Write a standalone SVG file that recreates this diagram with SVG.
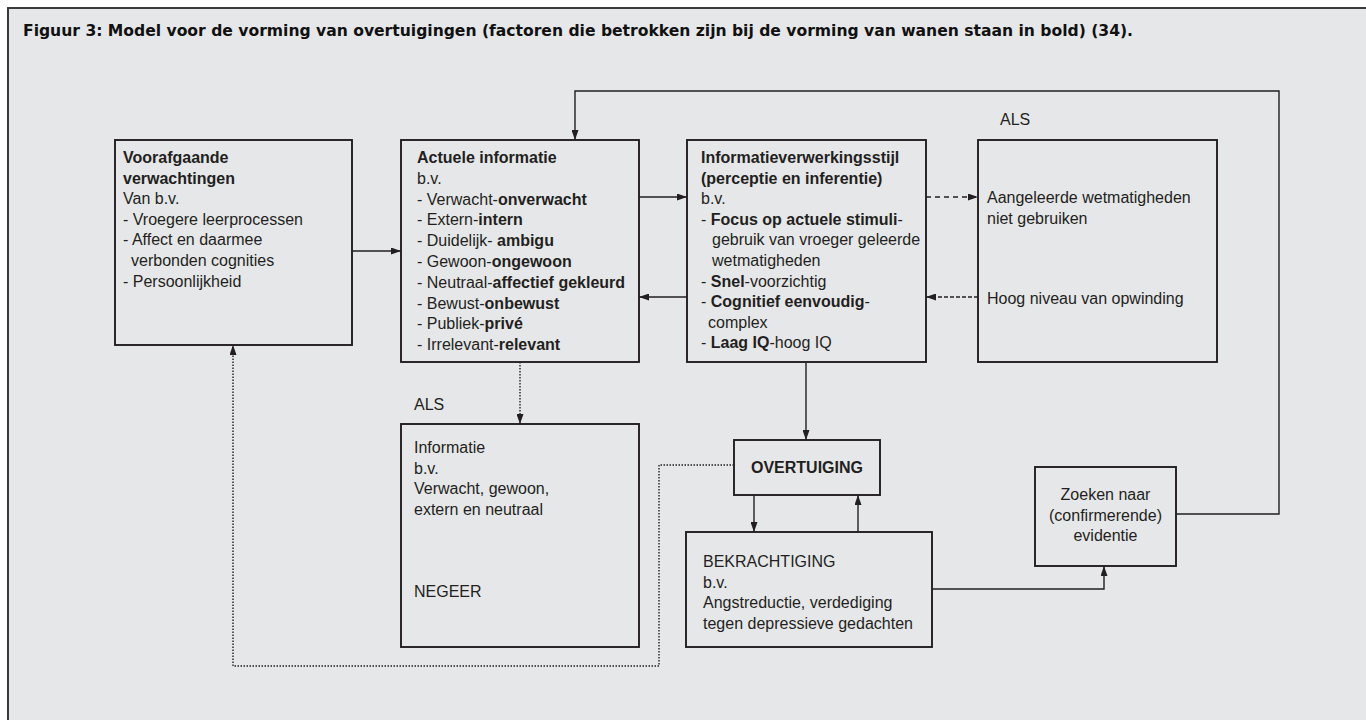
<svg xmlns="http://www.w3.org/2000/svg" width="1366" height="720" viewBox="0 0 1366 720">
<defs>
<style>
.frame{fill:#e6e7e9;stroke:#3a3a3a;stroke-width:2}
.box{fill:none;stroke:#231f20;stroke-width:1.9}
.t{font-family:"Liberation Sans",Arial,sans-serif;font-size:16px;fill:#231f20}
.b{font-weight:bold}
.title{font-family:"DejaVu Sans Condensed","DejaVu Sans",sans-serif;font-weight:bold;font-size:16px;fill:#111}
.c{fill:none;stroke:#231f20;stroke-width:1.4}
.dash{stroke-dasharray:5,4}
.dash2{stroke-dasharray:4,2}
.dot{stroke-dasharray:1.5,1.5}
</style>
<marker id="ah" viewBox="0 0 10 7" markerUnits="userSpaceOnUse" markerWidth="10" markerHeight="7" refX="10" refY="3.5" orient="auto">
<path d="M0,0 L10,3.5 L0,7 z" fill="#231f20"/>
</marker>
</defs>
<rect x="0" y="0" width="1366" height="720" fill="#ffffff"/>
<rect class="frame" x="8" y="8" width="1380" height="730"/>
<text class="title" x="23" y="36" textLength="1110" lengthAdjust="spacingAndGlyphs">Figuur 3: Model voor de vorming van overtuigingen (factoren die betrokken zijn bij de vorming van wanen staan in bold) (34).</text>

<g id="connectors">
<path class="c" d="M352,251 H401" marker-end="url(#ah)"/>
<path class="c" d="M639,197 H687" marker-end="url(#ah)"/>
<path class="c" d="M687,297 H639" marker-end="url(#ah)"/>
<path class="c dash" d="M926,197 H978" marker-end="url(#ah)"/>
<path class="c dash2" d="M978,297 H926" marker-end="url(#ah)"/>
<path class="c dot" d="M520,362 V424" marker-end="url(#ah)"/>
<path class="c" d="M806,362 V440" marker-end="url(#ah)"/>
<path class="c" d="M754,495 V532" marker-end="url(#ah)"/>
<path class="c" d="M858,532 V495" marker-end="url(#ah)"/>
<path class="c" d="M932,589 H1104 V566" marker-end="url(#ah)"/>
<path class="c" d="M1176,514 H1279 V91 H575 V140" marker-end="url(#ah)"/>
<path class="c dot" d="M734,465 H659 V666 H233 V345" marker-end="url(#ah)"/>
</g>

<g id="voorafgaande">
<rect class="box" x="115" y="140" width="237" height="205"/>
<text class="t" x="123" y="163"><tspan class="b">Voorafgaande</tspan><tspan x="123" dy="20.6" class="b">verwachtingen</tspan><tspan x="123" dy="20.6">Van b.v.</tspan><tspan x="123" dy="20.6">- Vroegere leerprocessen</tspan><tspan x="123" dy="20.6">- Affect en daarmee</tspan><tspan x="131" dy="20.6">verbonden cognities</tspan><tspan x="123" dy="20.6">- Persoonlijkheid</tspan></text>
</g>

<g id="actuele">
<rect class="box" x="401" y="140" width="238" height="222"/>
<text class="t" x="417" y="163"><tspan class="b">Actuele informatie</tspan><tspan x="417" dy="20.8">b.v.</tspan><tspan x="417" dy="20.8">- Verwacht-<tspan class="b">onverwacht</tspan></tspan><tspan x="417" dy="20.8">- Extern-<tspan class="b">intern</tspan></tspan><tspan x="417" dy="20.8">- Duidelijk- <tspan class="b">ambigu</tspan></tspan><tspan x="417" dy="20.8">- Gewoon-<tspan class="b">ongewoon</tspan></tspan><tspan x="417" dy="20.8">- Neutraal-<tspan class="b">affectief gekleurd</tspan></tspan><tspan x="417" dy="20.8">- Bewust-<tspan class="b">onbewust</tspan></tspan><tspan x="417" dy="20.8">- Publiek-<tspan class="b">privé</tspan></tspan><tspan x="417" dy="20.8">- Irrelevant-<tspan class="b">relevant</tspan></tspan></text>
</g>

<g id="stijl">
<rect class="box" x="687" y="140" width="239" height="222"/>
<text class="t" x="701" y="163"><tspan class="b">Informatieverwerkingsstijl</tspan><tspan x="701" dy="20.6" class="b">(perceptie en inferentie)</tspan><tspan x="701" dy="20.6">b.v.</tspan><tspan x="701" dy="20.6">- <tspan class="b">Focus op actuele stimuli</tspan>-</tspan><tspan x="712" dy="20.6">gebruik van vroeger geleerde</tspan><tspan x="712" dy="20.6">wetmatigheden</tspan><tspan x="701" dy="20.6">- <tspan class="b">Snel</tspan>-voorzichtig</tspan><tspan x="701" dy="20.6">- <tspan class="b">Cognitief eenvoudig</tspan>-</tspan><tspan x="708" dy="20.6">complex</tspan><tspan x="701" dy="20.6">- <tspan class="b">Laag IQ</tspan>-hoog IQ</tspan></text>
</g>

<g id="aangeleerde">
<text class="t" x="1000" y="125">ALS</text>
<rect class="box" x="978" y="140" width="239" height="222"/>
<text class="t" x="987" y="203">Aangeleerde wetmatigheden<tspan x="987" dy="20.8">niet gebruiken</tspan></text>
<text class="t" x="987" y="304">Hoog niveau van opwinding</text>
</g>

<g id="negeer">
<text class="t" x="414" y="410">ALS</text>
<rect class="box" x="401" y="424" width="238" height="223"/>
<text class="t" x="414" y="453">Informatie<tspan x="414" dy="20.6">b.v.</tspan><tspan x="414" dy="20.6">Verwacht, gewoon,</tspan><tspan x="414" dy="20.6">extern en neutraal</tspan></text>
<text class="t" x="414" y="597">NEGEER</text>
</g>

<g id="overtuiging">
<rect class="box" x="734" y="440" width="146" height="55"/>
<text class="t b" x="807" y="473" text-anchor="middle">OVERTUIGING</text>
</g>

<g id="bekrachtiging">
<rect class="box" x="686" y="532" width="246" height="115"/>
<text class="t" x="703" y="567">BEKRACHTIGING<tspan x="703" dy="20.6">b.v.</tspan><tspan x="703" dy="20.6">Angstreductie, verdediging</tspan><tspan x="703" dy="20.6">tegen depressieve gedachten</tspan></text>
</g>

<g id="zoeken">
<rect class="box" x="1035" y="467" width="141" height="99"/>
<text class="t" x="1105.5" y="500" text-anchor="middle">Zoeken naar<tspan x="1105.5" dy="20.6">(confirmerende)</tspan><tspan x="1105.5" dy="20.6">evidentie</tspan></text>
</g>
</svg>
